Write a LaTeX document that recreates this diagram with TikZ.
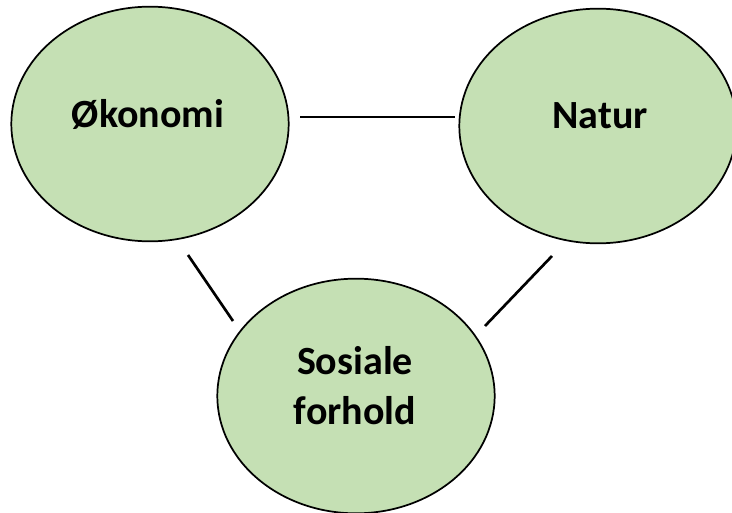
\documentclass[tikz,border=0pt]{standalone}
\usepackage{fontspec}
\setmainfont{Carlito}
\usetikzlibrary{shapes.geometric}
\definecolor{blobgreen}{HTML}{C5E0B4}
\begin{document}
\begin{tikzpicture}[x=.75pt,y=-.75pt,blob/.style={ellipse,draw=black,line width=1.3pt,fill=blobgreen,minimum width=208pt,minimum height=176pt,inner sep=0pt},lbl/.style={font=\fontsize{30}{37.5}\selectfont\bfseries,align=center,inner sep=0pt},link/.style={line width=2pt}]
\useasboundingbox(0,0)rectangle(732,513);
\node[blob](oko)at(150,124){};
\node[blob](nat)at(598,126){};
\node[blob](sos)at(356,396){};
\node[lbl](okotxt)at(148,114){Økonomi};
\node[lbl](nattxt)at(600,116){Natur};
\node[lbl](sostxt)at(355,386){Sosiale\\forhold};
\coordinate(a1)at(300,117);\coordinate(a2)at(455,117);
\coordinate(b1)at(188,255);\coordinate(b2)at(233,321);
\coordinate(c1)at(552,256);\coordinate(c2)at(485,326);
\draw[link](a1)--(a2);
\draw[link](b1)--(b2);
\draw[link](c1)--(c2);
\end{tikzpicture}
\end{document}
